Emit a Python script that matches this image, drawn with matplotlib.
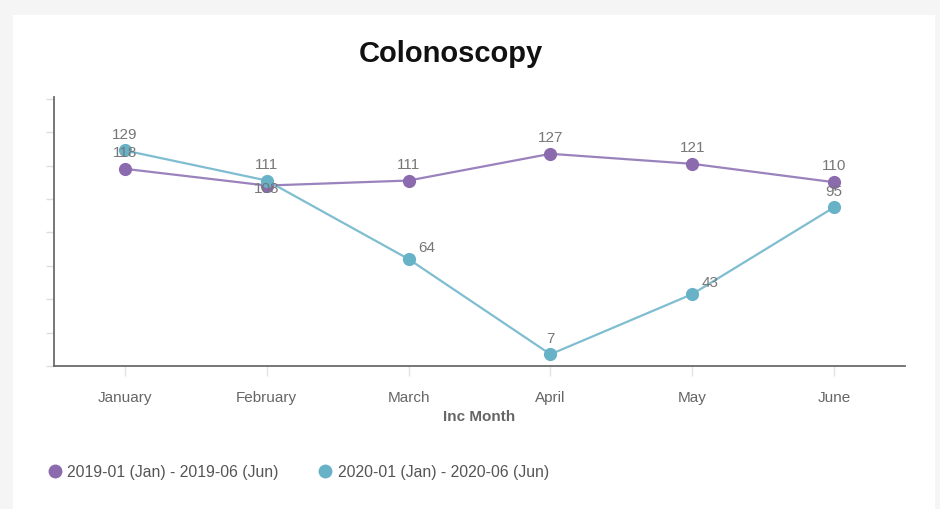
import matplotlib

matplotlib.use("Agg")
import matplotlib.pyplot as plt
from matplotlib.lines import Line2D
from matplotlib.patches import Rectangle

plt.rcParams["font.family"] = ["Liberation Sans", "DejaVu Sans"]

months = ["January", "February", "March", "April", "May", "June"]
series_names = ["2019-01 (Jan) - 2019-06 (Jun)", "2020-01 (Jan) - 2020-06 (Jun)"]
counts_2019 = [118, 108, 111, 127, 121, 110]
counts_2020 = [129, 111, 64, 7, 43, 95]

LINE_COLORS = ["#9a82bd", "#7fbdd0"]
MARKER_COLORS = ["#8b6aae", "#68b2c7"]
LABEL_COLOR = "#777777"

# label offsets in points (dx, dy, ha, va); default sits above the point
LABEL_OFFSETS = {
    (0, 1): (0, -2, "center", "center"),
    (1, 2): (7, 4, "left", "bottom"),
    (1, 4): (7, 4, "left", "bottom"),
}

W, H = 940, 510
fig = plt.figure(figsize=(W / 100, H / 100), dpi=100)
fig.patch.set_facecolor("#f5f5f5")
fig.patches.append(
    Rectangle((13 / W, 0), 922 / W, (H - 16) / H, transform=fig.transFigure,
              facecolor="white", edgecolor="none", zorder=-5)
)

ax = fig.add_axes([54 / W, 1 - 367 / H, (905 - 54) / W, (367 - 98) / H])
ax.set_facecolor("none")
ax.set_zorder(2)

x = list(range(len(months)))
for i, values in enumerate([counts_2019, counts_2020]):
    ax.plot(x, values, color=LINE_COLORS[i], linewidth=1.6, zorder=2)
    ax.plot(x, values, linestyle="none", marker="o", markersize=9.5,
            color=MARKER_COLORS[i], markeredgewidth=0, zorder=3)
    for j, v in enumerate(values):
        dx, dy, ha, va = LABEL_OFFSETS.get((i, j), (0, 7, "center", "bottom"))
        ax.annotate(str(v), (j, v), xytext=(dx, dy), textcoords="offset points",
                    ha=ha, va=va, fontsize=11, color=LABEL_COLOR, zorder=4)

ax.set_xlim(-0.5, len(months) - 0.5)
ax.set_ylim(0, 161)
ax.set_yticks(range(0, 161, 20))
ax.set_yticklabels([])
ax.set_xticks(x)
ax.set_xticklabels(months)

for side in ("top", "right"):
    ax.spines[side].set_visible(False)
for side in ("left", "bottom"):
    ax.spines[side].set_color("#6b6b6b")
    ax.spines[side].set_linewidth(1.3)

ax.tick_params(axis="y", direction="out", length=6, width=1, color="#dddddd")
ax.tick_params(axis="x", direction="out", length=7, width=1, color="#e3e3e3",
               pad=10, labelsize=11, labelcolor="#666666")
ax.set_xlabel("Inc Month", fontsize=11, fontweight="bold", color="#666666", labelpad=4)

fig.text(451 / W, 1 - 62 / H, "Colonoscopy", ha="center", va="baseline",
         fontsize=21, fontweight="bold", color="#111111")

handles = [
    Line2D([], [], linestyle="none", marker="o", markersize=10,
           color=MARKER_COLORS[i], markeredgewidth=0)
    for i in range(2)
]
fig.legend(handles, series_names, loc="center left",
           bbox_to_anchor=(47 / W, 1 - 473 / H), frameon=False, ncol=2,
           fontsize=11.3, handlelength=1.0, handletextpad=0.3, columnspacing=2.45,
           borderpad=0, borderaxespad=0, labelcolor="#555555")

fig.savefig("out.png", dpi=100, facecolor=fig.get_facecolor())
